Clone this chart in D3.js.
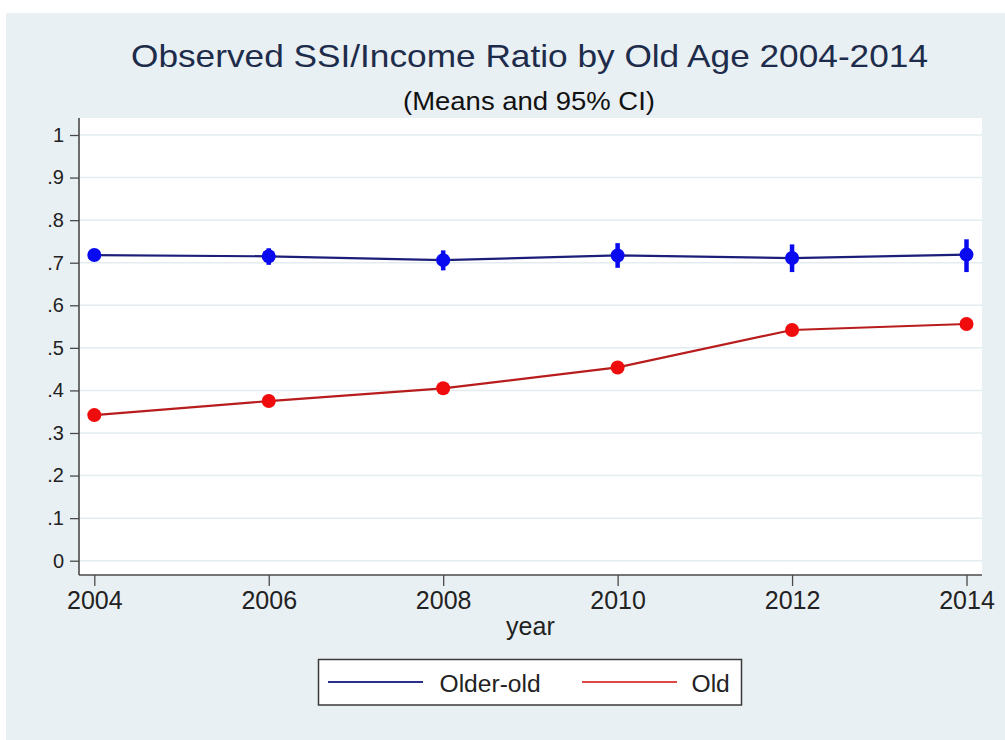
<!DOCTYPE html>
<html>
<head>
<meta charset="utf-8">
<script src="https://cdn.jsdelivr.net/npm/d3@7"></script>
<style>
  html, body { margin: 0; padding: 0; background: #ffffff; }
  svg { display: block; }
  text { font-family: "Liberation Sans", Arial, sans-serif; }
</style>
</head>
<body>
<svg id="chart" width="1005" height="740"></svg>
<script>
// Survey years
const years = [2004, 2006, 2008, 2010, 2012, 2014];

// Older-old: mean SSI/income ratio with 95% CI bounds
const olderOldMean = [0.718, 0.715, 0.706, 0.717, 0.711, 0.719];
const olderOldLo   = [0.712, 0.695, 0.682, 0.688, 0.678, 0.678];
const olderOldHi   = [0.724, 0.734, 0.729, 0.746, 0.743, 0.755];

// Old: mean SSI/income ratio with 95% CI bounds
const oldMean = [0.342, 0.375, 0.405, 0.454, 0.542, 0.556];
const oldLo   = [0.337, 0.370, 0.400, 0.448, 0.535, 0.549];
const oldHi   = [0.347, 0.380, 0.410, 0.460, 0.549, 0.563];

const yTicks = [0, 0.1, 0.2, 0.3, 0.4, 0.5, 0.6, 0.7, 0.8, 0.9, 1];
const yTickLabels = ["0", ".1", ".2", ".3", ".4", ".5", ".6", ".7", ".8", ".9", "1"];
const seriesNames = ["Older-old", "Old"];

const svg = d3.select("#chart");

// Outer graph region
svg.append("rect")
  .attr("x", 6).attr("y", 13).attr("width", 999).attr("height", 727)
  .attr("fill", "#e9f0f3");

// Plot region
const plot = { left: 79, right: 982, top: 118, bottom: 575 };
svg.append("rect")
  .attr("x", plot.left).attr("y", plot.top)
  .attr("width", plot.right - plot.left).attr("height", plot.bottom - plot.top)
  .attr("fill", "#ffffff");

const x = d3.scaleLinear().domain([2004, 2014]).range([94.3, 966.5]);
const y = d3.scaleLinear().domain([0, 1]).range([560.7, 135]);

// Horizontal grid lines
svg.append("g")
  .selectAll("line")
  .data(yTicks)
  .join("line")
  .attr("x1", plot.left).attr("x2", plot.right)
  .attr("y1", d => y(d)).attr("y2", d => y(d))
  .attr("stroke", "#e3ecef").attr("stroke-width", 1.5);

// Y axis
const yAxis = d3.axisLeft(y)
  .tickValues(yTicks)
  .tickFormat((d, i) => yTickLabels[i])
  .tickSize(9).tickPadding(6);
const gy = svg.append("g").attr("transform", `translate(${plot.left},0)`).call(yAxis);
gy.select(".domain").remove();
gy.append("line")
  .attr("x1", 0).attr("x2", 0).attr("y1", plot.top).attr("y2", plot.bottom)
  .attr("stroke", "#4a4a4a").attr("stroke-width", 1.6);
gy.selectAll(".tick line").attr("stroke", "#4a4a4a").attr("stroke-width", 1.3);
gy.selectAll(".tick text")
  .attr("font-size", 20).attr("fill", "#222")
  .attr("font-family", "Liberation Sans, Arial, sans-serif");

// X axis
const xAxis = d3.axisBottom(x)
  .tickValues(years)
  .tickFormat(d3.format("d"))
  .tickSize(11).tickPadding(5);
const gx = svg.append("g").attr("transform", `translate(0,${plot.bottom})`).call(xAxis);
gx.select(".domain").remove();
gx.append("line")
  .attr("x1", plot.left).attr("x2", plot.right).attr("y1", 0).attr("y2", 0)
  .attr("stroke", "#4a4a4a").attr("stroke-width", 1.6);
gx.selectAll(".tick line").attr("stroke", "#4a4a4a").attr("stroke-width", 1.3);
gx.selectAll(".tick text")
  .attr("font-size", 25).attr("fill", "#222")
  .attr("font-family", "Liberation Sans, Arial, sans-serif");

// Axis title
svg.append("text")
  .attr("x", x(2009)).attr("y", 635)
  .attr("text-anchor", "middle")
  .attr("font-size", 25).attr("fill", "#222")
  .text("year");

// Titles
svg.append("text")
  .attr("x", 131).attr("y", 66.5)
  .attr("font-size", 30.5).attr("fill", "#1e2c4b")
  .attr("textLength", 797).attr("lengthAdjust", "spacingAndGlyphs")
  .text("Observed SSI/Income Ratio by Old Age 2004-2014");
svg.append("text")
  .attr("x", 403).attr("y", 109.5)
  .attr("font-size", 25).attr("fill", "#111")
  .attr("textLength", 252).attr("lengthAdjust", "spacingAndGlyphs")
  .text("(Means and 95% CI)");

// Series drawing
const series = [
  { name: seriesNames[0], mean: olderOldMean, lo: olderOldLo, hi: olderOldHi,
    line: "#1c1f7a", marker: "#0a0af0", legendLine: "#2b2f8c" },
  { name: seriesNames[1], mean: oldMean, lo: oldLo, hi: oldHi,
    line: "#b81c1c", marker: "#f00c0c", legendLine: "#e04848" }
];

const lineGen = d3.line().x(d => x(d[0])).y(d => y(d[1]));

series.forEach(s => {
  const pts = years.map((yr, i) => [yr, s.mean[i], s.lo[i], s.hi[i]]);
  const g = svg.append("g");
  g.append("path")
    .attr("d", lineGen(pts))
    .attr("fill", "none")
    .attr("stroke", s.line).attr("stroke-width", 2.2);
  // 95% CI spikes
  g.selectAll("line.ci")
    .data(pts)
    .join("line")
    .attr("class", "ci")
    .attr("x1", d => x(d[0])).attr("x2", d => x(d[0]))
    .attr("y1", d => y(d[2])).attr("y2", d => y(d[3]))
    .attr("stroke", s.marker).attr("stroke-width", 4.5);
  // mean markers
  g.selectAll("circle")
    .data(pts)
    .join("circle")
    .attr("cx", d => x(d[0])).attr("cy", d => y(d[1]))
    .attr("r", 7)
    .attr("fill", s.marker);
});

// Legend
const legend = svg.append("g");
legend.append("rect")
  .attr("x", 318.5).attr("y", 659.5).attr("width", 423).attr("height", 45.5)
  .attr("fill", "#ffffff").attr("stroke", "#3a3a3a").attr("stroke-width", 1.5);
const legendItems = [
  { lx: 328, tx: 439.5 },
  { lx: 582, tx: 691.5 }
];
series.forEach((s, i) => {
  legend.append("line")
    .attr("x1", legendItems[i].lx).attr("x2", legendItems[i].lx + 95)
    .attr("y1", 682).attr("y2", 682)
    .attr("stroke", s.legendLine).attr("stroke-width", 2);
  legend.append("text")
    .attr("x", legendItems[i].tx).attr("y", 691.5)
    .attr("font-size", 24.6).attr("fill", "#222")
    .text(s.name);
});
</script>
</body>
</html>
